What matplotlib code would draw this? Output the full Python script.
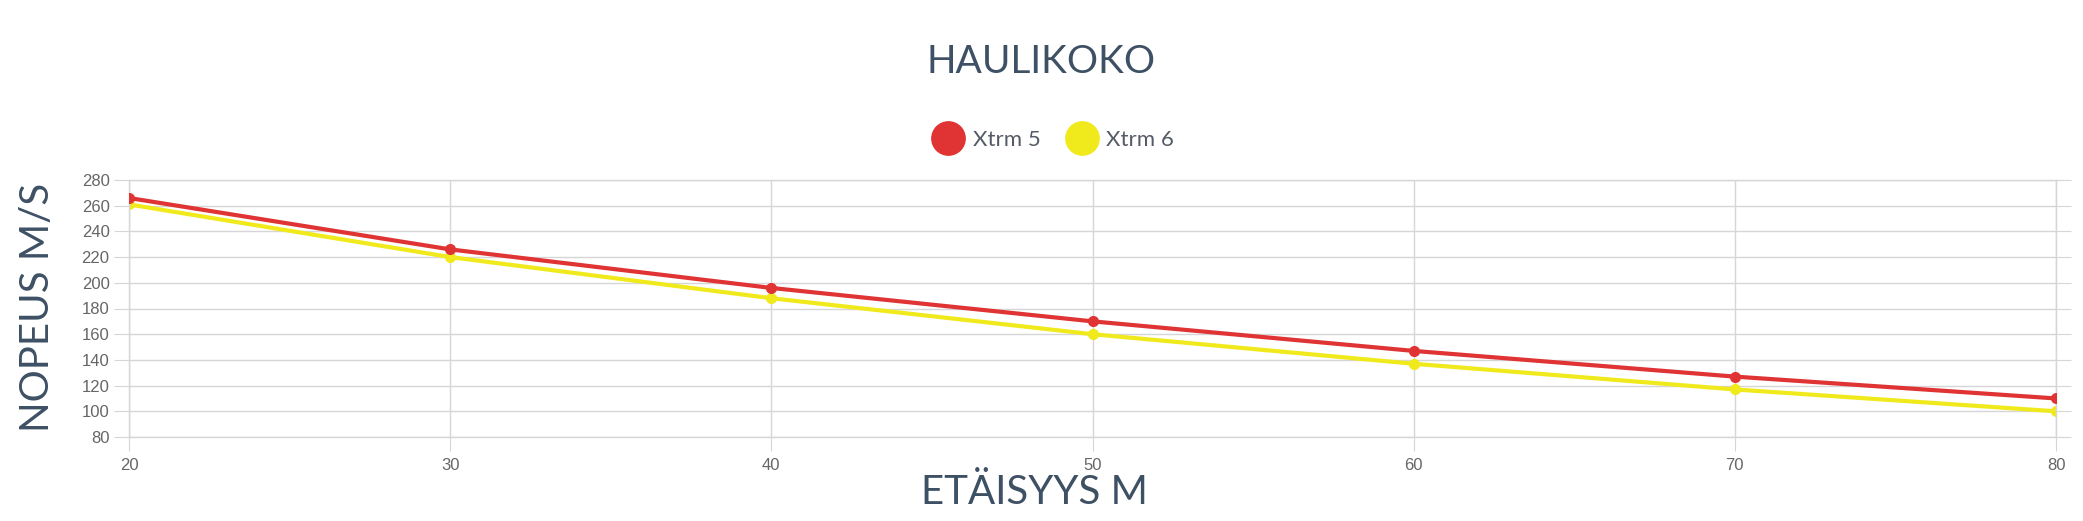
import matplotlib
matplotlib.use("Agg")
import matplotlib.pyplot as plt
from matplotlib.lines import Line2D

# data
distance = [20, 30, 40, 50, 60, 70, 80]
xtrm5 = [266, 226, 196, 170, 147, 127, 110]
xtrm6 = [261, 220, 188, 160, 137, 117, 100]
series_names = ["Xtrm 5", "Xtrm 6"]
yticks = list(range(80, 281, 20))

red = "#e03434"
yellow = "#f0ea1c"
navy = "#3e5064"
grid = "#d6d6d6"
tickc = "#666666"

fig = plt.figure(figsize=(20.83, 5.21), dpi=100)
ax = fig.add_axes([129/2083, 1-437/521, (2056-129)/2083, (437-180)/521])

ax.plot(distance, xtrm5, color=red, lw=3, marker="o", ms=7, zorder=3)
ax.plot(distance, xtrm6, color=yellow, lw=3, marker="o", ms=7, zorder=2)

ax.set_xlim(20, 80)
ax.set_ylim(80, 280)
ax.set_xticks(distance)
ax.set_yticks(yticks)
ax.grid(True, color=grid, lw=1)
ax.set_axisbelow(True)
for s in ax.spines.values():
    s.set_color(grid)
    s.set_linewidth(1)
ax.tick_params(axis="y", left=True, right=True, length=11, color=grid,
               labelcolor=tickc, labelsize=12, pad=3)
ax.tick_params(axis="x", bottom=True, length=10, color=grid,
               labelcolor=tickc, labelsize=12, pad=5)
for lab in ax.get_xticklabels() + ax.get_yticklabels():
    lab.set_fontfamily("Liberation Sans")

fig.text(0.5, 1-62/521, "HAULIKOKO", ha="center", va="center",
         fontsize=28, color=navy, family="Lato")
fig.text(1034/2083, 1-492/521, "ETÄISYYS M", ha="center", va="center",
         fontsize=29, color=navy, family="Lato")
fig.text(38/2083, 1-307/521, "NOPEUS M/S", ha="center", va="center",
         rotation=90, fontsize=29, color=navy, family="Lato")

handles = [Line2D([], [], ls="", marker="o", ms=24, color=c) for c in (red, yellow)]
leg = fig.legend(handles, series_names, loc="center", bbox_to_anchor=(1050/2083, 1-140/521),
                 ncol=2, frameon=False, handletextpad=0.1, columnspacing=0.85,
                 prop={"family": "Lato", "size": 16})
for t in leg.get_texts():
    t.set_color("#555b66")

fig.savefig("out.png", dpi=100)
